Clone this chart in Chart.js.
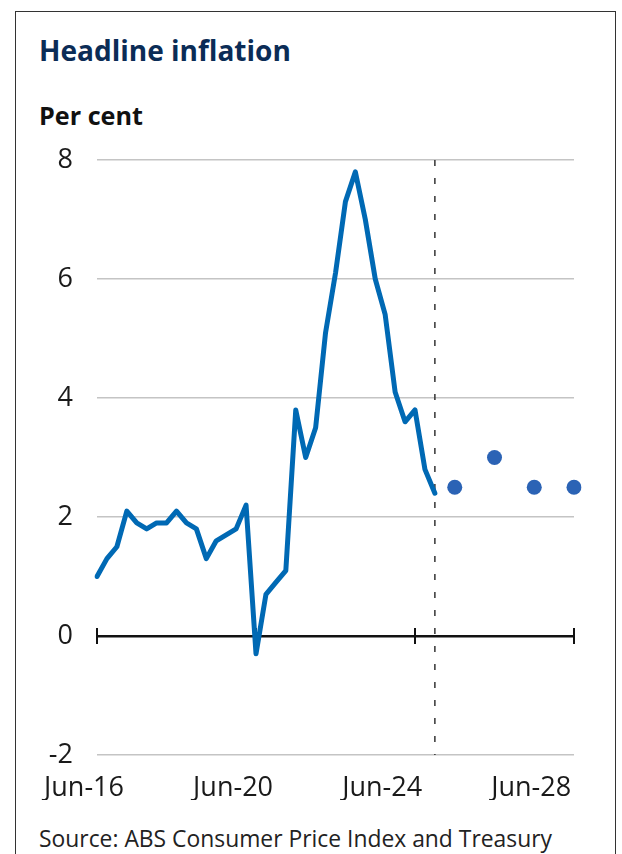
<!DOCTYPE html>
<html>
<head>
<meta charset="utf-8">
<script src="https://cdn.jsdelivr.net/npm/chart.js@4.4.1/dist/chart.umd.min.js"></script>
<style>
  html, body { margin: 0; padding: 0; background: #fff; }
  body { width: 622px; height: 854px; position: relative; overflow: hidden; font-family: 'Open Sans', sans-serif; }
  #frame { position: absolute; left: 15px; top: 11px; width: 601px; height: 900px; border: 1.5px solid #333; box-sizing: border-box; }
  .txt { position: absolute; left: 39px; white-space: nowrap; line-height: 1; margin: 0; }
  #title { font-weight: 700; color: #0b2c56; }
  #unit { font-weight: 700; color: #111; }
  #source { font-weight: 400; color: #222; }
  #c { position: absolute; left: 0; top: 0; }
</style>
</head>
<body>
<div id="frame"></div>
<div class="txt" id="title">Headline inflation</div>
<div class="txt" id="unit">Per cent</div>
<div class="txt" id="source">Source: ABS Consumer Price Index and Treasury</div>
<canvas id="c" width="622" height="854"></canvas>
<script>
// ---- Data ----
const quarters = [
  'Jun-16','Sep-16','Dec-16',
  'Mar-17','Jun-17','Sep-17','Dec-17',
  'Mar-18','Jun-18','Sep-18','Dec-18',
  'Mar-19','Jun-19','Sep-19','Dec-19',
  'Mar-20','Jun-20','Sep-20','Dec-20',
  'Mar-21','Jun-21','Sep-21','Dec-21',
  'Mar-22','Jun-22','Sep-22','Dec-22',
  'Mar-23','Jun-23','Sep-23','Dec-23',
  'Mar-24','Jun-24','Sep-24','Dec-24',
  'Mar-25','Jun-25','Sep-25','Dec-25',
  'Mar-26','Jun-26','Sep-26','Dec-26',
  'Mar-27','Jun-27','Sep-27','Dec-27',
  'Mar-28','Jun-28'
];
const headline = [1.0,1.3,1.5,2.1,1.9,1.8,1.9,1.9,2.1,1.9,1.8,1.3,1.6,1.7,1.8,2.2,-0.3,0.7,0.9,1.1,3.8,3.0,3.5,5.1,6.1,7.3,7.8,7.0,6.0,5.4,4.1,3.6,3.8,2.8,2.4];
const forecastDates = ['Jun-25','Jun-26','Jun-27','Jun-28'];
const forecastValues = [2.5, 3.0, 2.5, 2.5];
const forecastStart = 'Dec-24';
const xTickLabels = ['Jun-16','Jun-20','Jun-24','Jun-28'];
const yMin = -2, yMax = 8, yStep = 2;

// ---- HTML text fitting ----
function fitText(id, targetW, baseline) {
  const el = document.getElementById(id);
  let fs = 20;
  el.style.fontSize = fs + 'px';
  const w = el.getBoundingClientRect().width;
  fs = fs * targetW / w;
  el.style.fontSize = fs + 'px';
  el.style.top = (baseline - 0.888 * fs) + 'px';
}
fitText('title', 252, 61);
fitText('unit', 104, 125);
fitText('source', 513, 848);

// ---- Chart ----
const FONT = "'Open Sans', sans-serif";
const majorIdx = xTickLabels.map(l => quarters.indexOf(l));

new Chart(document.getElementById('c'), {
  type: 'line',
  data: {
    labels: quarters,
    datasets: [
      {
        label: 'Headline inflation',
        data: headline,
        borderColor: '#0069b4',
        borderWidth: 5,
        pointRadius: 0,
        tension: 0,
        borderJoinStyle: 'round',
        borderCapStyle: 'round',
        fill: false,
        order: 2
      },
      {
        label: 'Forecast',
        data: forecastDates.map((d, i) => ({ x: d, y: forecastValues[i] })),
        showLine: false,
        pointRadius: 7.5,
        pointHoverRadius: 7.5,
        pointBackgroundColor: '#2b63b5',
        pointBorderWidth: 0,
        order: 1
      },
      {
        label: 'Forecast start',
        data: [{ x: forecastStart, y: yMax }, { x: forecastStart, y: yMin }],
        borderColor: '#333',
        borderWidth: 1.5,
        borderDash: [6, 12],
        pointRadius: 0,
        fill: false,
        order: 3
      }
    ]
  },
  options: {
    responsive: false,
    animation: false,
    events: [],
    layout: { padding: { top: 160, right: 48, left: 0, bottom: 54 } },
    plugins: { legend: { display: false }, tooltip: { enabled: false }, title: { display: false } },
    scales: {
      x: {
        type: 'category',
        position: 'bottom',
        offset: false,
        grid: { display: false, drawTicks: false },
        border: { display: false },
        ticks: {
          autoSkip: false,
          maxRotation: 0,
          minRotation: 0,
          padding: 17,
          labelOffset: -13,
          color: '#1a1a1a',
          font: { family: FONT, size: 27 },
          callback: (v, i) => (i % 15 === 0 && xTickLabels[i / 15]) ? xTickLabels[i / 15] : ''
        },
        afterFit: s => { s.height = 45; }
      },
      xt: {
        type: 'category',
        position: { y: 0.13 },
        offset: false,
        ticks: { display: false },
        border: { display: false },
        grid: {
          drawOnChartArea: false,
          drawTicks: true,
          tickLength: 16,
          lineWidth: 2,
          color: ctx => majorIdx.includes(ctx.index) ? '#111' : 'rgba(0,0,0,0)'
        }
      },
      y: {
        min: yMin,
        max: yMax,
        border: { display: false },
        grid: {
          drawTicks: false,
          color: ctx => ctx.tick && ctx.tick.value === 0 ? '#111' : '#c4c4c4',
          lineWidth: ctx => ctx.tick && ctx.tick.value === 0 ? 2.5 : 1.5
        },
        ticks: {
          stepSize: yStep,
          padding: 24,
          color: '#1a1a1a',
          font: { family: FONT, size: 27 },
          callback: v => String(v)
        },
        afterFit: s => { s.width = 97; }
      }
    }
  }
});
</script>
</body>
</html>
